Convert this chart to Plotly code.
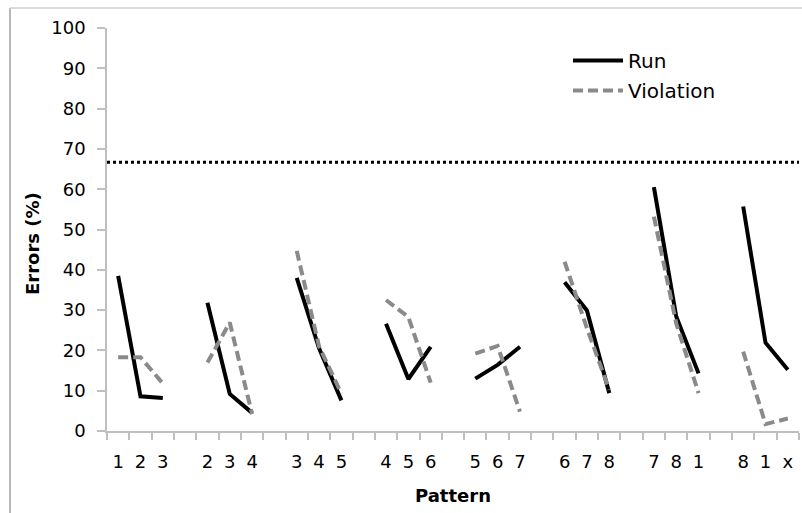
import plotly.graph_objects as go

# ---- data ----
tick_labels = ["1", "2", "3", "", "2", "3", "4", "", "3", "4", "5", "",
               "4", "5", "6", "", "5", "6", "7", "", "6", "7", "8", "",
               "7", "8", "1", "", "8", "1", "x"]
run = [38.5, 8.6, 8.2, None, 31.8, 9.2, 4.5, None, 38.0, 20.5, 7.6, None,
       26.6, 12.9, 20.9, None, 13.0, 16.4, 20.9, None, 36.9, 29.9, 9.4, None,
       60.5, 28.4, 14.3, None, 55.7, 21.9, 15.2]
violation = [18.3, 18.3, 11.8, None, 17.0, 26.9, 4.2, None, 44.7, 21.0, 9.3, None,
             32.5, 28.3, 12.0, None, 19.2, 21.1, 4.8, None, 42.0, 25.5, 10.2, None,
             53.2, 26.7, 9.4, None, 19.7, 1.7, 3.1]
chance_level = 66.7
y_ticks = [0, 10, 20, 30, 40, 50, 60, 70, 80, 90, 100]

xs = list(range(len(tick_labels)))

W, H = 802, 513
ML, MR, MT, MB = 107, 3, 28, 82
PW, PH = W - ML - MR, H - MT - MB

def px_x(p):
    return (p - ML) / PW

def px_y(p):
    return (H - MB - p) / PH

FONT = "DejaVu Sans"

fig = go.Figure()
fig.add_trace(go.Scatter(x=xs, y=run, mode="lines", name="Run",
                         legendgroup="a",
                         line=dict(color="black", width=4)))
fig.add_trace(go.Scatter(x=xs, y=violation, mode="lines", name="Violation",
                         legendgroup="b",
                         line=dict(color="#8a8a8a", width=4, dash="10px,5px")))

# chance level dotted line
fig.add_shape(type="line", xref="paper", yref="y", x0=0, x1=1,
              y0=chance_level, y1=chance_level,
              line=dict(color="black", width=3, dash="3px,3px"))

# outer frame (left and top edges)
fig.add_shape(type="line", xref="paper", yref="paper",
              x0=px_x(10), x1=px_x(10), y0=px_y(8), y1=px_y(H + 5),
              line=dict(color="#a0a0a0", width=1.5))
fig.add_shape(type="line", xref="paper", yref="paper",
              x0=px_x(10), x1=px_x(W + 5), y0=px_y(8), y1=px_y(8),
              line=dict(color="#d0d0d0", width=1.5))

# axis titles
fig.add_annotation(text="<b>Errors (%)</b>", xref="paper", yref="paper",
                   x=px_x(33), y=px_y(244), textangle=-90, showarrow=False,
                   xanchor="center", yanchor="middle",
                   font=dict(family=FONT, size=18, color="black"))
fig.add_annotation(text="<b>Pattern</b>", xref="paper", yref="paper",
                   x=px_x(453), y=px_y(495), showarrow=False,
                   xanchor="center", yanchor="middle",
                   font=dict(family=FONT, size=18, color="black"))

fig.update_layout(
    width=W, height=H,
    margin=dict(l=ML, r=MR, t=MT, b=MB, autoexpand=False),
    paper_bgcolor="white", plot_bgcolor="white",
    font=dict(family=FONT, size=18, color="black"),
    showlegend=True,
    legend=dict(x=px_x(568), y=px_y(41), xanchor="left", yanchor="top",
                bgcolor="rgba(0,0,0,0)", font=dict(family=FONT, size=20),
                itemwidth=50, traceorder="grouped", tracegroupgap=1),
    xaxis=dict(range=[-0.5, len(tick_labels) - 0.5],
               tickmode="array", tickvals=xs, ticktext=tick_labels,
               ticks="", showgrid=False, zeroline=False,
               showline=True, linecolor="#bfbfbf", linewidth=1.5,
               ticklabelstandoff=14,
               tickfont=dict(family=FONT, size=18, color="black"),
               minor=dict(tickmode="linear", tick0=-0.5, dtick=1,
                          ticks="outside", ticklen=7, tickcolor="#bfbfbf",
                          tickwidth=1.5, showgrid=False)),
    yaxis=dict(range=[0, 100], tickmode="array", tickvals=y_ticks,
               ticks="outside", ticklen=8, tickcolor="#bfbfbf", tickwidth=1.5,
               showgrid=False, zeroline=False,
               showline=True, linecolor="#bfbfbf", linewidth=1.5,
               ticklabelstandoff=8,
               tickfont=dict(family=FONT, size=18, color="black")),
)

fig.write_html("out.html")
